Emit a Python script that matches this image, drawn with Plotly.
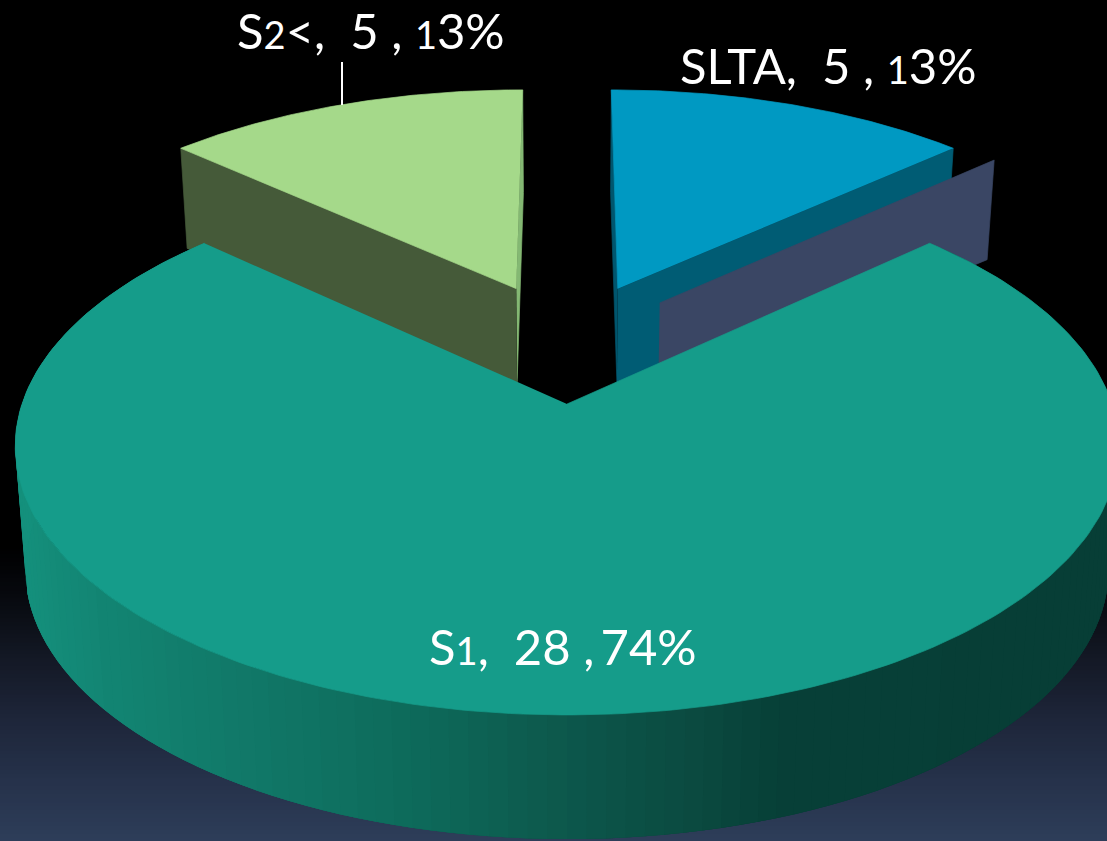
import numpy as np
import plotly.graph_objects as go

# ---- data ----
categories = ["S2<", "SLTA", "S1"]
values = [5, 5, 28]
percent_labels = ["13%", "13%", "74%"]
top_colors = ["#a5d98a", "#0099c2", "#159c8a"]
wall_colors = ["#455a39", "#005c74", None]
side_colors = ["#84b873", "#00566e", None]
ghost_color = "#3a4664"

# ---- 3D view parameters ----
W, H = 1107, 841
CX = 567
K = 0.156
TOP = dict(a=545, b=262.4, y0=404)
BOTTOM_SMALL = dict(a=536, b=251, y0=493)
BOTTOM_MAIN = dict(a=535, b=263, y0=527.5)
OFFSETS = {"S2<": (-0.100, 0.472), "SLTA": (0.100, 0.472), "S1": (0.0, 0.0)}
GHOST_OFFSET = (0.181, 0.41)

# gradient stops: background (screen y) and S1 outer wall (screen x)
bg_y = [0, 545, 600, 660, 720, 780, 841]
bg_rgb = [(0, 0, 0), (0, 0, 0), (8, 10, 16), (20, 25, 38), (30, 38, 58), (38, 50, 75), (46, 62, 90)]
wall_x = [15, 100, 250, 400, 567, 700, 780, 1107]
wall_rgb = [(21, 145, 125), (19, 133, 115), (17, 120, 104), (14, 108, 92), (13, 88, 76), (11, 74, 64), (7, 64, 56), (7, 62, 54)]


def project(X, Y, plane):
    w = 1 + K * np.asarray(Y)
    return CX + plane["a"] * np.asarray(X) / w, plane["y0"] - plane["b"] * np.asarray(Y) / w


total = sum(values)
half_small = np.pi * 2 * values[0] / total  # angular span of one small slice

fig = go.Figure()

# background gradient
rows = np.arange(0, H, 4)
bg_z = rows / rows[-1]
bg = np.array([np.interp(rows, bg_y, [c[i] for c in bg_rgb]) for i in range(3)]).T
fig.add_trace(go.Heatmap(
    z=[[float(v), float(v)] for v in bg_z], x=[0, W], y=[int(r) for r in rows],
    zmin=0, zmax=1,
    colorscale=[[float(z), f"rgb({int(r)},{int(g)},{int(b)})"] for z, (r, g, b) in zip(bg_z, bg)],
    showscale=False, hoverinfo="skip", zsmooth="best",
))


def poly(xs, ys, color, width=0.7):
    fig.add_trace(go.Scatter(
        x=[float(v) for v in np.round(xs, 2)], y=[float(v) for v in np.round(ys, 2)],
        mode="lines", fill="toself",
        fillcolor=color, line=dict(color=color, width=width), hoverinfo="skip", showlegend=False,
    ))


def slice_top(offset, a0, a1, color, n=80):
    t = np.linspace(a0, a1, n)
    X = np.r_[offset[0], offset[0] + np.sin(t)]
    Y = np.r_[offset[1], offset[1] + np.cos(t)]
    xs, ys = project(X, Y, TOP)
    poly(xs, ys, color)


def radial_wall(offset, angle, color, bottom):
    X = np.array([offset[0], offset[0] + np.sin(angle)])
    Y = np.array([offset[1], offset[1] + np.cos(angle)])
    xt, yt = project(X, Y, TOP)
    xb, yb = project(X, Y, bottom)
    poly(np.r_[xt, xb[::-1]], np.r_[yt, yb[::-1]], color)


# SLTA: walls, ghost wall, top
o = OFFSETS["SLTA"]
radial_wall(o, 0.0, side_colors[1], BOTTOM_SMALL)
radial_wall(o, half_small, wall_colors[1], BOTTOM_SMALL)
slice_top(o, 0.0, half_small, top_colors[1])
radial_wall(GHOST_OFFSET, half_small, ghost_color, BOTTOM_SMALL)

# S2<: walls, top
o = OFFSETS["S2<"]
radial_wall(o, 0.0, side_colors[0], BOTTOM_SMALL)
radial_wall(o, -half_small, wall_colors[0], BOTTOM_SMALL)
slice_top(o, -half_small, 0.0, top_colors[0])

# S1: outer wall drawn in overlapping strips from the right end to the left end, then top
n_strips = 150
edges = np.linspace(half_small, 2 * np.pi - half_small, n_strips + 1)
step = edges[1] - edges[0]
for a0, a1 in zip(edges[:-1], edges[1:]):
    t = np.linspace(a0, min(a1 + 2 * step, edges[-1]), 4)
    X, Y = np.sin(t), np.cos(t)
    xt, yt = project(X, Y, TOP)
    xb, yb = project(X, Y, BOTTOM_MAIN)
    mid = project(np.sin((a0 + a1) / 2), np.cos((a0 + a1) / 2), TOP)[0]
    r, g, b = [int(np.interp(mid, wall_x, [c[i] for c in wall_rgb])) for i in range(3)]
    poly(np.r_[xt, xb[::-1]], np.r_[yt, yb[::-1]], f"rgb({r},{g},{b})", width=0)
slice_top(OFFSETS["S1"], half_small, 2 * np.pi - half_small, top_colors[2], n=240)

# leader line of the S2< label
fig.add_trace(go.Scatter(x=[342, 342], y=[62, 105], mode="lines", line=dict(color="white", width=2),
                         hoverinfo="skip", showlegend=False))


def small_digits(s):
    return "".join(f'<span style="font-size:38px">{ch}</span>' if ch in "12" else ch for ch in s)


# labels
label_pos = {"S2<": (235, 30), "SLTA": (678, 65), "S1": (427, 646)}
pct_sep = {"S2<": ", ", "SLTA": ", ", "S1": ",\u2009"}
anns = []
for c, v, p in zip(categories, values, percent_labels):
    x, y = label_pos[c]
    anns.append(dict(x=x, y=y, xref="x", yref="y", xanchor="left", yanchor="middle", showarrow=False,
                     text=f"{small_digits(c)},\u00a0 {v}\u00a0{pct_sep[c]}{small_digits(p)}",
                     font=dict(family="Lato", size=49, color="white")))

fig.update_layout(
    width=W, height=H, margin=dict(l=0, r=0, t=0, b=0), showlegend=False,
    paper_bgcolor="black", plot_bgcolor="black", annotations=anns,
    xaxis=dict(range=[0, W], visible=False, fixedrange=True),
    yaxis=dict(range=[H, 0], visible=False, fixedrange=True),
)
fig.write_html("out.html", config=dict(displayModeBar=False),
               post_script="document.body.style.margin='0';")
